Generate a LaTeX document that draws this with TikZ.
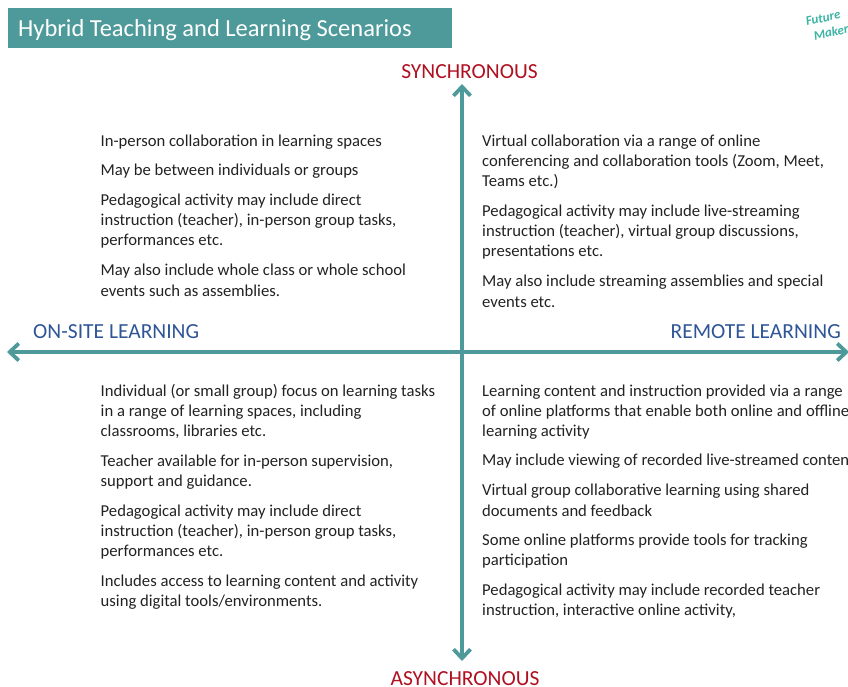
\documentclass[tikz,border=0pt]{standalone}
\usepackage{fontspec}
\setmainfont{Carlito}
\usetikzlibrary{arrows.meta}
\definecolor{teal1}{HTML}{4E9A9A}
\definecolor{logoc}{HTML}{3DB5A5}
\definecolor{redt}{HTML}{B01020}
\definecolor{bluet}{HTML}{2F5597}
\definecolor{txt}{HTML}{222222}
\tikzset{
 px/.style={x=1pt,y=-1pt},
 line/.style={anchor=west,inner sep=0pt,font=\fontsize{16.65pt}{16.65pt}\selectfont,text=txt},
 axislab/.style={inner sep=0pt,font=\fontsize{21.5pt}{21.5pt}\selectfont},
 logot/.style={inner sep=0pt,text=logoc,rotate=12,font=\fontsize{13pt}{13pt}\selectfont\itshape\bfseries},
 axis/.style={draw=teal1,line width=3.8pt,{Straight Barb[length=9pt,width=17pt]}-{Straight Barb[length=9pt,width=17pt]}}
}
\begin{document}
\begin{tikzpicture}[px]
\useasboundingbox (0,0) rectangle (848,686);
\clip (0,0) rectangle (848,686);
\fill[teal1] (8,8) rectangle (452,48);
\node[anchor=west,inner sep=0pt,text=white,font=\fontsize{24.5pt}{24.5pt}\selectfont] (title) at (18,30) {Hybrid Teaching and Learning Scenarios};
\node[axislab,text=redt] (syn) at (469.5,72) {SYNCHRONOUS};
\node[axislab,text=redt] (asy) at (465,679) {ASYNCHRONOUS};
\node[axislab,text=bluet,anchor=west] (on) at (33,332) {ON-SITE LEARNING};
\node[axislab,text=bluet,anchor=east] (rem) at (841,332) {REMOTE LEARNING};
\coordinate (t) at (462,84);
\coordinate (b) at (462,661);
\coordinate (l) at (7,352);
\coordinate (r) at (849,352);
\draw[axis] (t) -- (b);
\draw[axis] (l) -- (r);
\foreach \y/\s in {
142/{In-person collaboration in learning spaces},
171/{May be between individuals or groups},
201/{Pedagogical activity may include direct},
221/{instruction (teacher), in-person group tasks,},
241/{performances etc.},
271/{May also include whole class or whole school},
291/{events such as assemblies.},
392/{Individual (or small group) focus on learning tasks},
412/{in a range of learning spaces, including},
432/{classrooms, libraries etc.},
462/{Teacher available for in-person supervision,},
482/{support and guidance.},
512/{Pedagogical activity may include direct},
532/{instruction (teacher), in-person group tasks,},
552/{performances etc.},
582/{Includes access to learning content and activity},
602/{using digital tools/environments.}}
 {\node[line] at (100.5,\y) {\s};}
\foreach \y/\s in {
142/{Virtual collaboration via a range of online},
162/{conferencing and collaboration tools (Zoom, Meet,},
182/{Teams etc.)},
212/{Pedagogical activity may include live-streaming},
232/{instruction (teacher), virtual group discussions,},
252/{presentations etc.},
282/{May also include streaming assemblies and special},
302/{events etc.},
392/{Learning content and instruction provided via a range},
412/{of online platforms that enable both online and offline},
432/{learning activity},
461/{May include viewing of recorded live-streamed content},
491/{Virtual group collaborative learning using shared},
511/{documents and feedback},
541/{Some online platforms provide tools for tracking},
561/{participation},
591/{Pedagogical activity may include recorded teacher},
611/{instruction, interactive online activity,}}
 {\node[line] at (482,\y) {\s};}
\node[logot] (logo1) at (823,18) {Future};
\node[logot] (logo2) at (831,32) {Maker};
\end{tikzpicture}
\end{document}
